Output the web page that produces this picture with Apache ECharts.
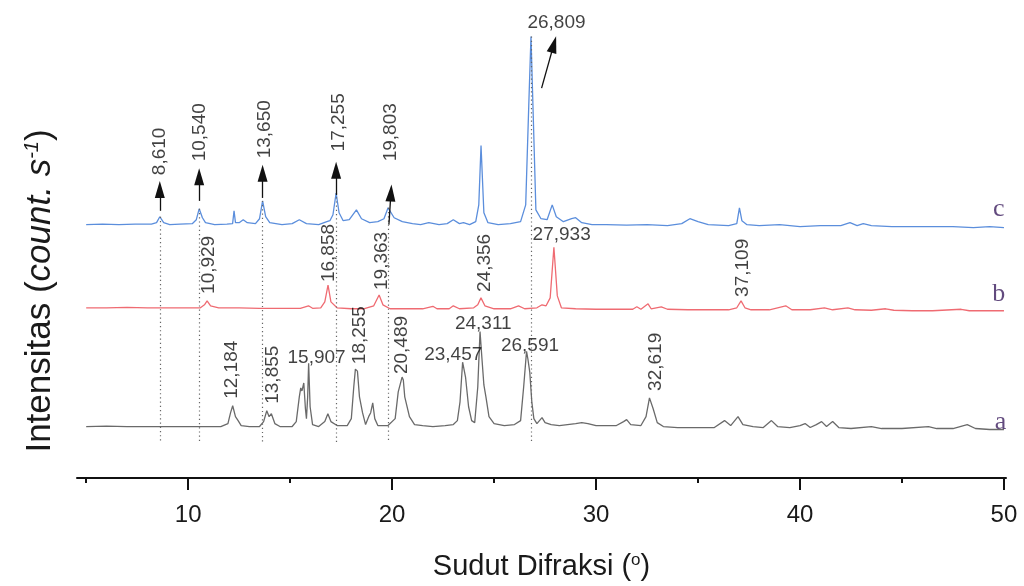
<!DOCTYPE html>
<html><head><meta charset="utf-8">
<script src="https://cdn.jsdelivr.net/npm/echarts@6/dist/echarts.min.js"></script>
<style>html,body{margin:0;padding:0;background:#fff}#chart{width:1024px;height:586px}</style>
</head><body><div id="chart"></div>
<script>
// ---------------- DATA ----------------
const majorTicks = [10, 20, 30, 40, 50];
const minorTicks = [5, 15, 25, 35, 45];
const sampleNames = ['a', 'b', 'c'];

// [2-theta, intensity above own baseline]
const traceC = [
[5.0,0],[5.8,0.5],[6.6,0],[7.4,0.5],[8.2,0.5],[8.45,2],[8.61,8],[8.8,2],[9.1,0],[9.6,0.5],[10.2,1],[10.4,5],[10.54,16],[10.7,7],[10.85,2],[11.3,0],[11.9,0.5],[12.18,1],[12.25,14],[12.32,2],[12.5,2],[12.7,5],[12.9,2],[13.3,1],[13.5,6],[13.65,24],[13.8,8],[14.0,2],[14.6,0],[15.1,1],[15.45,5],[15.8,1],[16.4,0],[16.8,3],[16.95,4],[17.1,10],[17.255,32],[17.4,12],[17.6,4],[17.9,5],[18.25,15],[18.5,6],[18.9,2],[19.3,3],[19.6,6],[19.803,17],[20.1,7],[20.5,3],[21.0,1],[21.4,0],[21.8,2],[22.3,0],[22.7,1],[23.0,5],[23.3,1],[23.5,2],[23.8,0],[24.1,3],[24.25,20],[24.36,80],[24.5,12],[24.7,2],[25.2,0],[25.8,1],[26.3,3],[26.55,20],[26.7,120],[26.809,190],[26.92,110],[27.05,15],[27.3,6],[27.6,5],[27.85,20],[28.05,8],[28.4,3],[28.8,6],[29.0,7],[29.3,2],[29.8,0],[30.5,0],[31.5,-0.5],[32.5,0],[33.5,-1],[34.2,1],[34.6,6],[35.0,3],[35.5,0],[36.5,-1],[36.9,1],[37.03,17],[37.15,4],[37.4,0],[38.0,-1],[39.0,0],[40.0,-2],[41.0,-1],[42.0,-1],[42.45,2],[42.8,-1],[43.1,1],[43.5,-1],[44.5,-2],[45.5,-2],[46.5,-2],[47.5,-2],[48.5,-3],[49.3,-2],[50.0,-3]
];
const traceB = [
[5,0],[6,0],[7,0.5],[8,0],[9,0],[10,0],[10.6,0],[10.8,3],[10.929,7],[11.1,2],[11.5,0],[12.5,0],[13.5,-0.5],[14.5,-0.5],[15.5,-0.5],[15.9,2],[16.1,-0.5],[16.5,0],[16.7,6],[16.858,23],[17.0,6],[17.3,0],[18.0,-1],[18.6,-1],[19.1,2],[19.363,13],[19.55,3],[19.9,-1],[20.5,-1],[21.5,-1],[22.0,1.5],[22.2,-1],[22.8,-1],[23.0,2],[23.3,-1],[24.0,0],[24.2,3],[24.356,10],[24.55,2],[25.0,-1],[25.8,-1],[26.2,2],[26.5,-1],[27.1,0],[27.35,3],[27.55,2],[27.75,10],[27.933,61],[28.1,12],[28.3,0],[29.0,-1],[30.0,-1.5],[31.0,-1.5],[31.8,-1.5],[32.0,1],[32.2,-1.5],[32.55,4],[32.7,-1],[33.2,1],[33.5,-1.5],[34.5,-2],[35.5,-2],[36.5,-2],[36.9,0],[37.109,7],[37.3,0],[37.6,-2],[38.5,-2],[39.3,2],[39.6,-2],[40.5,-2],[41.2,0],[41.6,-2],[42.35,0],[42.7,-2],[43.5,-2.5],[44.2,-1],[44.6,-2.5],[45.5,-3],[46.5,-3],[47.9,-1.5],[48.3,-3],[49.2,-3],[50,-3]
];
const traceA = [
[5,0],[6,0.5],[7,0],[8,0],[9,0],[10,0],[10.5,0],[11,0],[11.6,0],[11.95,3],[12.08,14],[12.184,21],[12.32,10],[12.45,6],[12.6,1],[13.0,0],[13.5,0],[13.7,5],[13.855,16],[13.97,10],[14.08,13],[14.25,3],[14.5,0],[15.1,0],[15.3,5],[15.45,30],[15.52,39],[15.58,36],[15.67,44],[15.75,18],[15.8,8],[15.86,30],[15.907,64],[15.98,20],[16.1,2],[16.4,0],[16.7,5],[16.85,13],[17.0,5],[17.3,1],[17.8,1],[18.0,8],[18.12,40],[18.2,58],[18.255,60],[18.3,56],[18.4,30],[18.55,14],[18.7,2],[18.85,10],[18.95,14],[19.05,24],[19.15,8],[19.3,1],[19.8,1],[20.15,8],[20.3,35],[20.489,50],[20.55,47],[20.62,30],[20.7,28],[20.85,10],[21.1,2],[21.5,1],[22.0,0],[22.6,1],[23.0,2],[23.2,6],[23.33,25],[23.457,65],[23.6,50],[23.75,20],[23.9,6],[24.05,4],[24.2,40],[24.311,96],[24.4,70],[24.5,42],[24.6,30],[24.75,10],[25.0,3],[25.5,1],[26.0,2],[26.3,6],[26.45,40],[26.591,76],[26.66,68],[26.75,55],[26.85,25],[26.95,8],[27.1,3],[27.35,9],[27.5,4],[27.8,2],[28.2,1],[28.6,2],[29.0,3],[29.3,4],[29.6,3],[30.0,1],[30.6,1],[31.0,1],[31.35,5],[31.5,7],[31.7,2],[32.2,1],[32.45,10],[32.619,29],[32.8,18],[33.0,4],[33.3,0],[34.0,-1],[35.0,-1],[35.8,-1],[36.3,6],[36.6,1],[36.96,10],[37.2,2],[37.7,0],[38.2,-1],[38.6,6],[38.9,0],[39.5,-1],[40.0,1],[40.25,3],[40.5,-1],[40.8,2],[41.06,5],[41.3,0],[41.6,5],[41.9,-1],[42.5,-2],[43.5,0],[44.0,-2],[45.0,-2],[46.3,0],[46.7,-2],[47.5,-2],[48.2,2],[48.6,-2],[49.3,-3],[50,-3]
];
// vertical stacking offsets of the three patterns (intensity units)
const offsetA = 52, offsetB = 172, offsetC = 256;

// annotated peak positions (2-theta)
const peaksC = [8.610, 10.540, 13.650, 17.255, 19.803, 26.809];
const peaksB = [10.929, 16.858, 19.363, 24.356, 27.933, 37.109];
const peaksA = [12.184, 13.855, 15.907, 18.255, 20.489, 23.457, 24.311, 26.591, 32.619];

// ---------------- LAYOUT (annotation placement) ----------------
// [dx from peak, y, vertical?]
const layoutC = [[0,306,1],[0.05,320,1],[0.1,323,1],[0.12,330,1],[0.15,320,1],[1.25,460,0]];
const layoutB = [[0.06,186,1],[0.06,198,1],[0.13,190,1],[0.2,188,1],[0.38,246,0],[0.1,183,1]];
const layoutA = [[-0.05,80,1],[0.28,75,1],[0.39,121,0],[0.17,115,1],[-0.02,105,1],[-0.46,125,0],[0.16,156,0],[0.17,134,0],[0.31,88,1]];
// arrows: [dxTail, yTail, dxHead, yHead]
const arrowsC = [[0,270,0,291.5],[0,280,0,304.5],[0,283,0,308],[0,286,0,311],[0.04,256,0.14,288],[0.52,394,1.12,438]];
const nameLayout = [[49.83,56],[49.75,186],[49.75,272]];
const dropLineBottom = 36;

// ---------------- BUILD ----------------
const fmt = v => v.toFixed(3).replace('.', ',');
const shift = (tr, off) => tr.map(p => [p[0], p[1] + off]);
const cAt = x => { const p = traceC.find(q => Math.abs(q[0] - x) < 1e-6); return p ? p[1] + offsetC : offsetC; };

function labelItems(peaks, layout) {
  return peaks.map((p, i) => {
    const [dx, y, rot] = layout[i];
    return {
      name: fmt(p), value: [p + dx, y],
      label: rot ? { rotate: 90, align: 'left', verticalAlign: 'middle' }
                 : { rotate: 0, align: 'center', verticalAlign: 'middle' }
    };
  });
}

const FONT = "'Liberation Sans', Arial, sans-serif";
const chart = echarts.init(document.getElementById('chart'), null, { renderer: 'canvas' });
const axisCommon = { type: 'value', min: 4.55, max: 50.1, splitLine: { show: false } };

chart.setOption({
  animation: false,
  backgroundColor: '#fff',
  grid: { left: 77, right: 18, top: 0, bottom: 103, containLabel: false },
  xAxis: [
    Object.assign({}, axisCommon, {
      position: 'bottom',
      axisLine: { show: true, lineStyle: { color: '#111', width: 2 } },
      axisTick: { show: true, customValues: majorTicks, length: 12, lineStyle: { color: '#111', width: 2 } },
      axisLabel: { show: true, customValues: majorTicks, fontSize: 24, fontFamily: FONT, color: '#1a1a1a', margin: 25 },
      name: 'Sudut Difraksi ({sup|o})',
      nameLocation: 'middle', nameGap: 74,
      nameTextStyle: { fontSize: 29, fontFamily: FONT, color: '#1a1a1a',
        rich: { sup: { fontSize: 17, fontFamily: FONT, color: '#1a1a1a', verticalAlign: 'top' } } }
    }),
    Object.assign({}, axisCommon, {
      position: 'bottom',
      axisLine: { show: false },
      axisTick: { show: true, customValues: minorTicks, length: 5, lineStyle: { color: '#111', width: 2 } },
      axisLabel: { show: false }
    })
  ],
  yAxis: { type: 'value', min: 0, max: 483, show: false },
  graphic: [{
    type: 'text', x: 40, y: 291, rotation: Math.PI / 2,
    style: {
      text: 'Intensitas ({it|count. s}{sup|-1})',
      fontSize: 35, fontFamily: FONT, fill: '#1a1a1a', align: 'center', verticalAlign: 'middle',
      rich: {
        it: { fontSize: 35, fontFamily: FONT, fontStyle: 'italic', fill: '#1a1a1a' },
        sup: { fontSize: 20, fontFamily: FONT, fontStyle: 'italic', fill: '#1a1a1a', verticalAlign: 'top' }
      }
    }
  }],
  series: [
    { name: 'a', type: 'line', data: shift(traceA, offsetA), showSymbol: false, symbol: 'none',
      lineStyle: { color: '#6a6a6a', width: 1.3 }, itemStyle: { color: '#6a6a6a' }, z: 3,
      markLine: { silent: true, symbol: ['none', 'none'], label: { show: false },
        lineStyle: { color: '#666', width: 1.2, type: [1.2, 3] },
        data: peaksC.map(p => [{ coord: [p, cAt(p)] }, { coord: [p, dropLineBottom] }]) } },
    { name: 'b', type: 'line', data: shift(traceB, offsetB), showSymbol: false, symbol: 'none',
      lineStyle: { color: '#ef6b72', width: 1.3 }, itemStyle: { color: '#ef6b72' }, z: 3 },
    { name: 'c', type: 'line', data: shift(traceC, offsetC), showSymbol: false, symbol: 'none',
      lineStyle: { color: '#5b8edc', width: 1.3 }, itemStyle: { color: '#5b8edc' }, z: 3,
      markLine: { silent: true, symbol: ['none', 'triangle'], symbolSize: [10, 17], label: { show: false },
        lineStyle: { color: '#111', width: 1.3, type: 'solid' }, itemStyle: { color: '#111' },
        data: arrowsC.map((a, i) => [{ coord: [peaksC[i] + a[0], a[1]] }, { coord: [peaksC[i] + a[2], a[3]] }]) } },
    { name: 'peakLabels', type: 'scatter', symbolSize: 0, silent: true, z: 5,
      label: { show: true, position: 'inside', formatter: p => p.name, fontSize: 19, fontFamily: FONT, color: '#111' },
      data: [].concat(labelItems(peaksC, layoutC), labelItems(peaksB, layoutB), labelItems(peaksA, layoutA)) },
    { name: 'sampleNames', type: 'scatter', symbolSize: 0, silent: true, z: 5,
      label: { show: true, position: 'inside', formatter: p => p.name, fontSize: 26,
        fontFamily: "'Liberation Serif', 'Times New Roman', serif", color: '#3b1d5e' },
      data: sampleNames.map((n, i) => ({ name: n, value: nameLayout[i] })) }
  ]
});
</script>
</body></html>
